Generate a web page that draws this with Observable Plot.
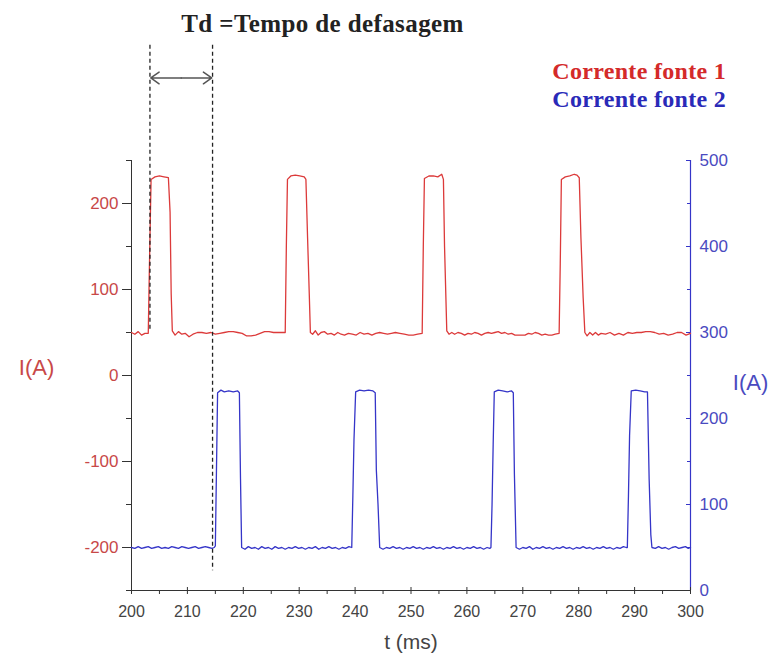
<!DOCTYPE html>
<html>
<head>
<meta charset="utf-8">
<script src="https://cdn.jsdelivr.net/npm/d3@7"></script>
<script src="https://cdn.jsdelivr.net/npm/@observablehq/plot@0.6"></script>
<style>
  html, body { margin: 0; padding: 0; background: #fff; }
  #wrap { position: relative; width: 771px; height: 661px; overflow: hidden; }
  #wrap svg { position: absolute; left: 0; top: 0; }
  .title { position: absolute; left: 0; width: 645px; top: 11px; text-align: center;
    font: bold 25px "Liberation Serif", "Times New Roman", serif; line-height: 25px; color: #222; white-space: nowrap; letter-spacing: 0.4px; }
  .legend { position: absolute; right: 45px; top: 57px; text-align: right;
    font: bold 24px "Liberation Serif", "Times New Roman", serif; line-height: 28px; white-space: nowrap; letter-spacing: 0.3px; }
</style>
</head>
<body>
<div id="wrap">
  <div class="title">Td =Tempo de defasagem</div>
  <div class="legend"><div style="color:#d42a2a">Corrente fonte 1</div><div style="color:#2a2ab8">Corrente fonte 2</div></div>
</div>
<script>
// ---- data ----
const seriesNames = ["Corrente fonte 1", "Corrente fonte 2"];

// Corrente fonte 1 (left axis, A)
const redT = [200.0,200.6,201.2,201.8,202.4,203.0,203.2,203.5,204.2,205.0,205.8,206.6,206.9,207.1,207.3,207.8,208.4,209.0,209.6,210.3,211.0,211.8,212.6,213.4,214.2,215.0,215.8,216.6,217.4,218.2,219.0,219.8,220.6,221.4,222.2,223.0,223.8,224.6,225.4,226.2,227.0,227.5,227.7,227.9,228.5,229.3,230.1,230.9,231.2,231.5,231.8,232.0,232.4,232.9,233.4,233.9,234.5,235.1,235.7,236.3,236.9,237.5,238.1,238.8,239.5,240.2,240.9,241.6,242.3,243.0,243.7,244.4,245.1,245.8,246.5,247.2,248.0,248.8,249.6,250.4,251.2,252.0,252.2,252.4,253.2,254.0,254.8,255.5,255.8,256.0,256.4,256.8,257.3,257.8,258.4,259.0,259.6,260.2,260.8,261.4,262.0,262.6,263.2,263.8,264.4,265.0,265.6,266.2,266.8,267.4,268.0,268.6,269.2,269.8,270.4,271.0,271.6,272.2,272.8,273.4,274.0,274.6,275.2,275.8,276.5,276.7,276.9,277.6,278.4,279.2,279.7,280.1,280.4,280.8,281.1,281.5,282.0,282.5,283.0,283.5,284.0,284.8,285.6,286.4,287.2,288.0,288.8,289.6,290.4,291.2,292.0,292.8,293.6,294.4,295.2,296.0,296.8,297.6,298.4,299.2,300.0];
const redI = [50,48,51,47,49,49,125,228,231,232,231,230,190,95,52,47,51,48,49,45,48,50,50,49,50,48,49,50,51,51,50,49,46,46,47,49,51,51,50,50,50,50,150,228,232,233,232,231,228,160,95,50,48,52,47,50,51,48,49,47,50,48,47,49,48,47,50,48,49,47,49,50,49,48,49,50,49,48,47,47,48,49,150,229,232,232,231,234,228,150,52,48,50,48,50,49,47,49,48,50,49,47,49,50,49,50,51,49,50,48,49,47,47,47,47,49,48,50,49,47,48,47,47,48,49,130,228,231,232,234,233,230,160,90,50,46,50,47,50,47,49,48,50,47,49,47,50,49,50,50,51,51,50,48,49,47,48,50,50,47,49];

// Corrente fonte 2 (right axis, A)
const blueT = [200.0,200.6,201.2,201.8,202.4,203.0,203.6,204.2,204.8,205.4,206.0,206.6,207.2,207.8,208.4,209.0,209.6,210.2,210.8,211.4,212.0,212.6,213.2,213.8,214.4,214.8,215.0,215.2,215.4,216.0,216.6,217.4,218.2,219.0,219.3,219.5,219.7,220.3,220.9,221.5,222.1,222.7,223.3,223.9,224.5,225.1,225.7,226.3,226.9,227.5,228.1,228.7,229.3,229.9,230.5,231.1,231.7,232.3,232.9,233.5,234.1,234.7,235.3,235.9,236.5,237.1,237.7,238.3,238.9,239.4,239.6,239.8,240.1,240.8,241.6,242.4,243.2,243.6,243.8,244.1,244.4,245.0,245.6,246.2,246.8,247.4,248.0,248.6,249.2,249.8,250.4,251.0,251.6,252.2,252.8,253.4,254.0,254.6,255.2,255.8,256.4,257.0,257.6,258.2,258.8,259.4,260.0,260.6,261.2,261.8,262.4,263.0,263.6,264.1,264.3,264.5,264.7,264.9,265.6,266.4,267.2,268.0,268.3,268.5,268.8,269.4,270.0,270.6,271.2,271.8,272.4,273.0,273.6,274.2,274.8,275.4,276.0,276.6,277.2,277.8,278.4,279.0,279.6,280.2,280.8,281.4,282.0,282.6,283.2,283.8,284.4,285.0,285.6,286.2,286.8,287.4,288.0,288.5,288.7,288.9,289.1,289.4,290.2,291.0,291.8,292.3,292.6,292.9,293.1,293.7,294.3,294.9,295.5,296.1,296.7,297.3,297.9,298.5,299.1,299.6,300.0];
const blueI = [50,49,51,49,50,51,49,50,51,49,50,49,51,50,49,51,50,49,50,51,49,50,51,50,49,50,52,140,230,233,231,232,231,232,230,130,50,48,51,49,50,48,51,49,50,48,51,49,50,48,50,49,51,49,50,48,50,49,51,48,50,49,51,49,50,48,50,49,51,50,110,175,231,233,232,233,232,230,140,100,50,48,50,49,51,49,50,48,50,49,51,49,50,48,50,49,51,49,50,48,50,49,51,49,50,48,50,49,51,49,50,48,50,49,50,100,170,231,233,232,231,232,230,135,50,48,50,49,51,48,50,49,51,49,50,48,50,49,51,49,50,48,50,49,51,49,50,48,50,49,51,49,50,48,50,49,51,50,50,110,180,232,233,232,231,231,130,65,50,49,51,49,50,48,50,51,49,50,51,49,50];

// tick values
const xTicks = [200,210,220,230,240,250,260,270,280,290,300];
const xMinor = [205,215,225,235,245,255,265,275,285,295];
const leftTicks = [-200,-100,0,100,200];
const leftMinor = [-250,-150,-50,50,150,250];
const rightTicks = [0,100,200,300,400,500];
const rightMinor = [50,150,250,350,450];

// annotation: delay Td between the two sources (ms)
const delayStart = 203.3;
const delayEnd = 214.5;

// ---- build ----
const RED = "#dc3a3a", BLUE = "#3535c8";
const RIGHT_OFFSET = 250; // right axis value = left axis value + 250

const red = redT.map((t, i) => ({t, i: redI[i]}));
const blue = blueT.map((t, i) => ({t, i: blueI[i]}));
const markers = [
  {t: delayStart, top: 384, bottom: 52},
  {t: delayEnd, top: 384, bottom: -227}
];
const arrowY = 346;
const mid = (delayStart + delayEnd) / 2;
const arrows = [
  {x1: mid, x2: delayStart + 0.15, y: arrowY},
  {x1: mid, x2: delayEnd - 0.15, y: arrowY}
];

const chart = Plot.plot({
  width: 771, height: 661,
  marginLeft: 131, marginRight: 81, marginTop: 160, marginBottom: 71,
  x: {domain: [200, 300]},
  y: {domain: [-250, 250]},
  style: {background: "transparent", overflow: "visible", fontFamily: "'Liberation Sans', Arial, sans-serif"},
  marks: [
    // left axis
    Plot.axisY({anchor: "left", ticks: leftMinor, tickSize: 5, tickFormat: () => "", label: null, stroke: "#333"}),
    Plot.axisY({anchor: "left", ticks: leftTicks, tickSize: 9, tickPadding: 4, label: null, stroke: "#333", fill: "#c84848", fontSize: 17,
      tickFormat: d => (d < 0 ? "-" + Math.abs(d) : String(d))}),
    Plot.ruleX([200], {stroke: "#333"}),
    // right axis (inward ticks)
    Plot.axisY({anchor: "right", ticks: rightMinor.map(v => v - RIGHT_OFFSET), tickSize: 4, dx: -4, tickFormat: () => "", label: null, stroke: BLUE}),
    Plot.axisY({anchor: "right", ticks: rightTicks.map(v => v - RIGHT_OFFSET), tickSize: 5, dx: -5, tickFormat: () => "", label: null, stroke: BLUE}),
    Plot.axisY({anchor: "right", ticks: rightTicks.map(v => v - RIGHT_OFFSET), tickSize: 0, tickPadding: 9, label: null, fill: "#4a4ac0", fontSize: 17,
      tickFormat: d => String(d + RIGHT_OFFSET)}),
    Plot.ruleX([300], {stroke: BLUE, strokeWidth: 1.2}),
    // bottom axis
    Plot.axisX({anchor: "bottom", ticks: xMinor, tickSize: 4, tickFormat: () => "", label: null, stroke: "#333"}),
    Plot.axisX({anchor: "bottom", ticks: xTicks, tickSize: 7, dy: -3, tickFormat: () => "", label: null, stroke: "#333"}),
    Plot.axisX({anchor: "bottom", ticks: xTicks, tickSize: 0, tickPadding: 15, label: null, fill: "#444", fontSize: 16}),
    Plot.ruleY([-250], {stroke: "#333"}),
    // axis titles
    Plot.text(["I(A)"], {frameAnchor: "left", textAnchor: "middle", dx: -95, dy: -8, fill: "#c84848", fontSize: 22}),
    Plot.text(["I(A)"], {frameAnchor: "right", textAnchor: "middle", dx: 60, dy: 7, fill: "#4a4ac0", fontSize: 22}),
    Plot.text(["t (ms)"], {frameAnchor: "bottom", textAnchor: "middle", dy: 58, fill: "#444", fontSize: 21}),
    // series
    Plot.line(red, {x: "t", y: "i", stroke: RED, strokeWidth: 1.3}),
    Plot.line(blue, {x: "t", y: d => d.i - RIGHT_OFFSET, stroke: BLUE, strokeWidth: 1.3}),
    // Td annotation
    Plot.ruleX(markers, {x: "t", y1: "top", y2: "bottom", stroke: "#222", strokeWidth: 1.3, strokeDasharray: "4,3"}),
    Plot.arrow(arrows, {x1: "x1", x2: "x2", y1: "y", y2: "y", stroke: "#555", strokeWidth: 1.5, headLength: 11, headAngle: 70})
  ]
});
document.getElementById("wrap").prepend(chart);
</script>
</body>
</html>
